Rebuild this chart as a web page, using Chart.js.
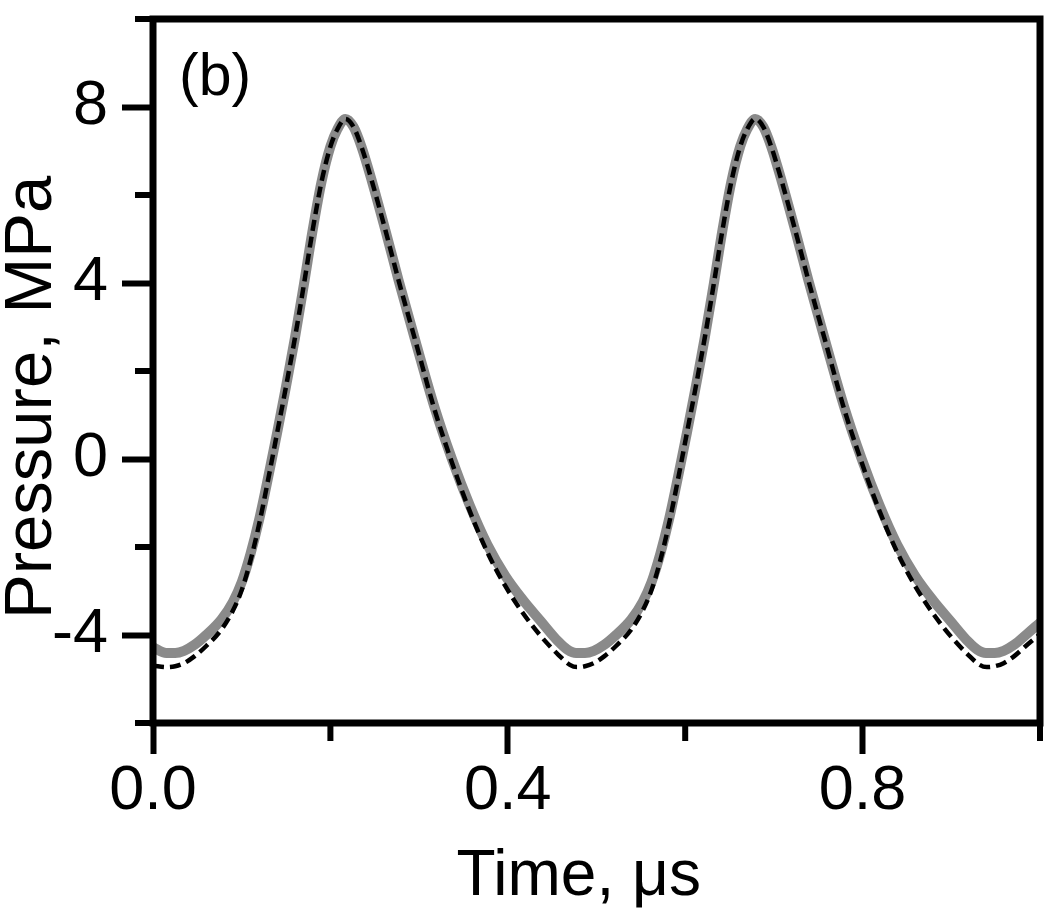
<!DOCTYPE html>
<html><head><meta charset="utf-8">
<script src="https://cdn.jsdelivr.net/npm/chart.js@4.4.1/dist/chart.umd.min.js"></script>
<style>html,body{margin:0;padding:0;background:#fff}#wrap{width:1050px;height:919px;position:relative}</style>
</head><body><div id="wrap"><canvas id="c" width="1050" height="919"></canvas></div>
<script>
// Time axis (µs) and pressure values (MPa)
const timeGray = [0.000,0.015,0.025,0.035,0.047,0.060,0.077,0.090,0.100,0.110,0.120,0.130,0.140,0.150,0.160,0.170,0.180,0.190,0.200,0.208,0.217,
  0.226,0.235,0.247,0.262,0.277,0.297,0.317,0.337,0.357,0.377,0.397,0.417,0.437,0.457,0.467,0.477,0.487,
  0.497,0.509,0.522,0.539,0.552,0.562,0.572,0.582,0.592,0.602,0.612,0.622,0.632,0.642,0.652,0.662,0.670,0.679,
  0.688,0.697,0.709,0.724,0.739,0.759,0.779,0.799,0.819,0.839,0.859,0.879,0.899,0.919,0.929,0.939,0.949,
  0.959,0.971,0.984,1.000];
const pressureGray = [-4.28,-4.41,-4.41,-4.36,-4.22,-4.00,-3.65,-3.25,-2.80,-2.15,-1.35,-0.40,0.60,1.65,2.75,3.95,5.20,6.30,7.10,7.50,7.73,
  7.55,7.10,6.30,5.20,4.05,2.60,1.20,0.00,-1.05,-1.95,-2.65,-3.20,-3.68,-4.15,-4.33,-4.41,-4.41,
  -4.36,-4.22,-4.00,-3.65,-3.25,-2.80,-2.15,-1.35,-0.40,0.60,1.65,2.75,3.95,5.20,6.30,7.10,7.50,7.73,
  7.55,7.10,6.30,5.20,4.05,2.60,1.20,0.00,-1.05,-1.95,-2.65,-3.20,-3.68,-4.15,-4.33,-4.41,-4.41,
  -4.36,-4.22,-4.00,-3.72];
const timeDash = [0.000,0.016,0.025,0.035,0.047,0.060,0.077,0.090,0.100,0.110,0.120,0.130,0.140,0.150,0.160,0.170,0.180,0.190,0.200,0.208,0.217,
  0.226,0.235,0.247,0.262,0.277,0.297,0.317,0.337,0.357,0.377,0.397,0.417,0.437,0.457,0.470,0.478,0.487,
  0.497,0.509,0.522,0.539,0.552,0.562,0.572,0.582,0.592,0.602,0.612,0.622,0.632,0.642,0.652,0.662,0.670,0.679,
  0.688,0.697,0.709,0.724,0.739,0.759,0.779,0.799,0.819,0.839,0.859,0.879,0.899,0.919,0.932,0.940,0.949,
  0.959,0.971,0.984,1.000];
const pressureDash = [-4.70,-4.73,-4.71,-4.64,-4.48,-4.25,-3.88,-3.45,-2.98,-2.30,-1.45,-0.45,0.60,1.65,2.75,3.95,5.20,6.30,7.10,7.50,7.73,
  7.55,7.10,6.30,5.20,4.05,2.60,1.15,-0.08,-1.18,-2.12,-2.88,-3.50,-4.02,-4.45,-4.68,-4.73,-4.71,
  -4.64,-4.48,-4.25,-3.88,-3.45,-2.98,-2.30,-1.45,-0.45,0.60,1.65,2.75,3.95,5.20,6.30,7.10,7.50,7.73,
  7.55,7.10,6.30,5.20,4.05,2.60,1.15,-0.08,-1.18,-2.12,-2.88,-3.50,-4.02,-4.45,-4.68,-4.73,-4.71,
  -4.64,-4.48,-4.25,-3.98];
const xMajorTicks = [0.0, 0.4, 0.8];
const yMajorTicks = [-4, 0, 4, 8];
const xTitle = 'Time, \u03bcs';
const yTitle = 'Pressure, MPa';
const panelLabel = '(b)';

const FONT = "'Liberation Sans', Arial, sans-serif";
const near = (v, arr) => arr.some(a => Math.abs(a - v) < 1e-6);

const frame = {
  id: 'frame',
  afterDatasetsDraw(chart) {
    const {ctx, chartArea: a, scales: {x, y}} = chart;
    ctx.save();
    ctx.strokeStyle = '#000';
    ctx.lineWidth = 7;
    ctx.lineJoin = 'miter';
    ctx.strokeRect(a.left, a.top, a.right - a.left, a.bottom - a.top);
    ctx.lineWidth = 6;
    ctx.beginPath();
    y.ticks.forEach(t => { if (!near(t.value, yMajorTicks)) { const p = y.getPixelForValue(t.value); ctx.moveTo(a.left - 18, p); ctx.lineTo(a.left, p); } });
    x.ticks.forEach(t => { if (!near(t.value, xMajorTicks)) { const p = x.getPixelForValue(t.value); ctx.moveTo(p, a.bottom); ctx.lineTo(p, a.bottom + 18); } });
    ctx.stroke();
    ctx.fillStyle = '#000';
    ctx.font = '59px ' + FONT;
    ctx.textBaseline = 'alphabetic';
    ctx.textAlign = 'left';
    ctx.fillText(panelLabel, a.left + 26, a.top + 76);
    // axis titles
    ctx.textAlign = 'center';
    ctx.font = '64px ' + FONT;
    ctx.fillText(xTitle, x.getPixelForValue(0.48), 895);
    ctx.save();
    ctx.translate(33, y.getPixelForValue(1.4));
    ctx.rotate(-Math.PI / 2);
    ctx.font = '67px ' + FONT;
    ctx.textBaseline = 'middle';
    ctx.fillText(yTitle, 0, 0);
    ctx.restore();
    ctx.restore();
  }
};

new Chart(document.getElementById('c'), {
  type: 'line',
  data: {
    datasets: [
      { data: timeDash.map((t, i) => ({x: t, y: pressureDash[i]})), borderColor: '#000', borderWidth: 4.5, borderDash: [11, 6], pointRadius: 0, cubicInterpolationMode: 'monotone', fill: false, order: 0 },
      { data: timeGray.map((t, i) => ({x: t, y: pressureGray[i]})), borderColor: '#8a8a8a', borderWidth: 10, pointRadius: 0, cubicInterpolationMode: 'monotone', fill: false, order: 1 }
    ]
  },
  options: {
    responsive: false,
    animation: false,
    layout: { padding: { top: 19, right: 10, left: 0, bottom: 0 } },
    plugins: { legend: { display: false }, tooltip: { enabled: false } },
    scales: {
      x: {
        type: 'linear', min: 0, max: 1,
        afterFit: s => { s.height = 196; s.paddingLeft = 0; s.paddingRight = 0; },
        border: { display: false },
        grid: { drawOnChartArea: false, drawTicks: true, tickLength: 31, tickWidth: 6,
          tickColor: c => near(c.tick.value, xMajorTicks) ? '#000' : 'rgba(0,0,0,0)' },
        ticks: { stepSize: 0.2, padding: 0, color: '#000', font: { family: FONT, size: 63 }, maxRotation: 0, autoSkip: false,
          callback: v => near(v, xMajorTicks) ? v.toFixed(1) : '' },
        title: { display: false }
      },
      y: {
        type: 'linear', min: -6, max: 10,
        afterFit: s => { s.width = 153; s.paddingTop = 0; s.paddingBottom = 0; },
        border: { display: false },
        grid: { drawOnChartArea: false, drawTicks: true, tickLength: 31, tickWidth: 6,
          tickColor: c => near(c.tick.value, yMajorTicks) ? '#000' : 'rgba(0,0,0,0)' },
        ticks: { stepSize: 2, padding: 14, color: '#000', font: { family: FONT, size: 63 }, autoSkip: false,
          callback: v => near(v, yMajorTicks) ? String(v) : '' },
        title: { display: false }
      }
    }
  },
  plugins: [frame]
});
</script></body></html>
